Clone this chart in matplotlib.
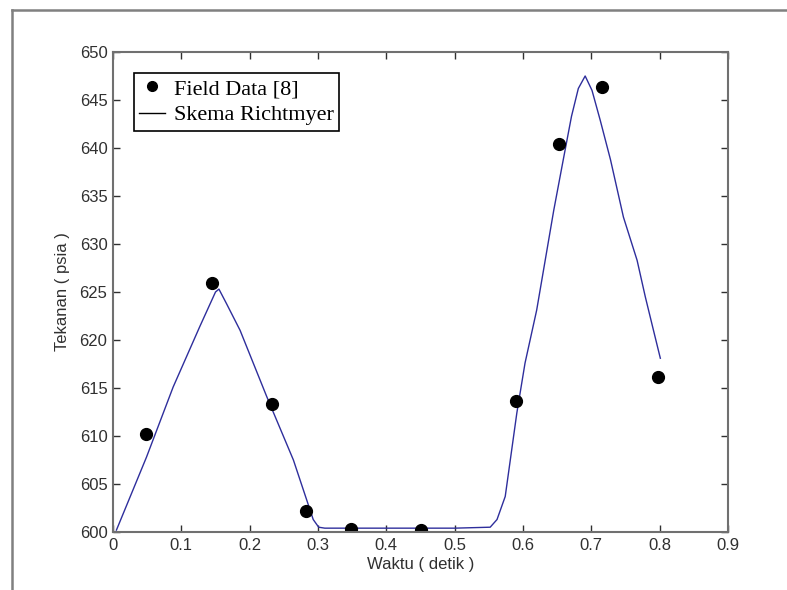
import matplotlib
matplotlib.use('Agg')
import matplotlib.pyplot as plt
from matplotlib.lines import Line2D

# field data (points)
t_field = [0.049, 0.145, 0.232, 0.283, 0.349, 0.451, 0.590, 0.653, 0.715, 0.798]
p_field = [610.2, 625.9, 613.3, 602.2, 600.3, 600.2, 613.6, 640.4, 646.4, 616.1]

# Richtmyer scheme (line)
t_rich = [0.005, 0.049, 0.088, 0.127, 0.150, 0.155, 0.166, 0.186, 0.225, 0.264, 0.293,
          0.301, 0.310, 0.400, 0.500, 0.552, 0.562, 0.574, 0.591, 0.603, 0.620, 0.645,
          0.659, 0.671, 0.681, 0.691, 0.701, 0.713, 0.728, 0.747, 0.767, 0.779, 0.791, 0.801]
p_rich = [600.2, 607.8, 615.1, 621.4, 625.0, 625.3, 623.8, 621.0, 614.1, 607.5, 601.3,
          600.5, 600.4, 600.4, 600.4, 600.5, 601.3, 603.7, 612.4, 617.6, 623.1, 633.5,
          638.8, 643.3, 646.2, 647.5, 646.0, 642.9, 638.8, 632.8, 628.3, 624.5, 621.0, 618.1]

fig = plt.figure(figsize=(7.87, 5.90), dpi=100)
ax = fig.add_axes([0.1436, 0.0983, 0.7814, 0.8136])

ax.plot(t_rich, p_rich, '-', color='#2e2e9c', lw=1.0)
ax.plot(t_field, p_field, 'o', color='black', ms=8.5)

ax.set_xlim(0, 0.9)
ax.set_ylim(600, 650)
ax.set_xticks([0, 0.1, 0.2, 0.3, 0.4, 0.5, 0.6, 0.7, 0.8, 0.9])
ax.set_xticklabels(['0', '0.1', '0.2', '0.3', '0.4', '0.5', '0.6', '0.7', '0.8', '0.9'])
ax.set_yticks(range(600, 651, 5))
ax.tick_params(direction='in', top=True, right=True, length=5, width=1,
               labelsize=12, colors='#303030', pad=4)
for lab in ax.get_xticklabels() + ax.get_yticklabels():
    lab.set_family('Liberation Sans')
for s in ax.spines.values():
    s.set_color('#707070')
    s.set_linewidth(1.5)

ax.set_xlabel('Waktu ( detik )', fontsize=12, family='Liberation Sans', color='#303030', labelpad=3)
ax.set_ylabel('Tekanan ( psia )', fontsize=12, family='Liberation Sans', color='#303030', labelpad=7)

handles = [Line2D([], [], marker='o', ls='', color='black', ms=7),
           Line2D([], [], ls='-', color='black', lw=1.0)]
leg = ax.legend(handles, ['Field Data [8]', 'Skema Richtmyer'], loc='upper left',
                bbox_to_anchor=(0.034, 0.956), fancybox=False, framealpha=1,
                edgecolor='black', prop={'family': 'Liberation Serif', 'size': 16},
                handlelength=1.15, handletextpad=0.4, borderpad=0.25, labelspacing=0.25,
                borderaxespad=0)
leg.get_frame().set_linewidth(1.2)

# outer gray frame of the screenshot
fig.add_artist(Line2D([12 / 787, 12 / 787], [0, 1 - 10 / 590], transform=fig.transFigure,
                      color='#808080', lw=1.8))
fig.add_artist(Line2D([12 / 787, 1], [1 - 10 / 590, 1 - 10 / 590], transform=fig.transFigure,
                      color='#808080', lw=1.8))

fig.savefig('out.png', dpi=100)
